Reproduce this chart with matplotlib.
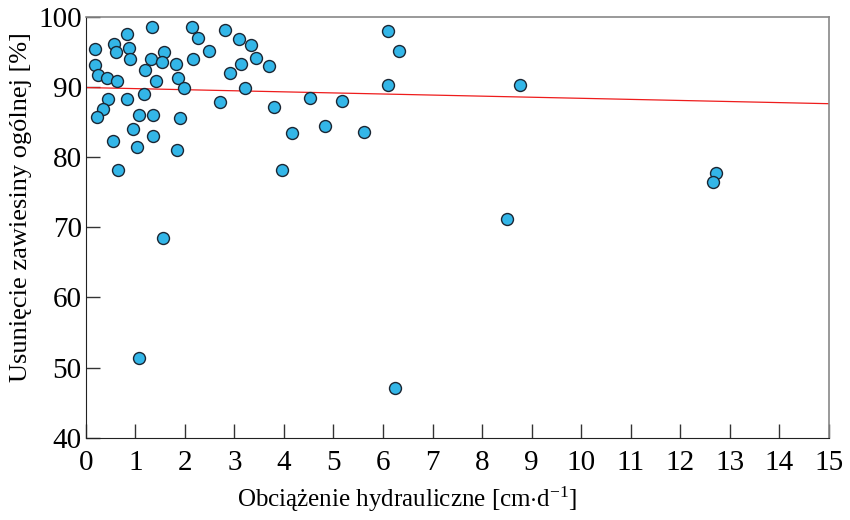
import matplotlib
matplotlib.use("Agg")
import matplotlib.pyplot as plt

# obciazenie hydrauliczne [cm/d] i usuniecie zawiesiny [%]
load = [0.19, 0.18, 0.24, 0.43, 0.63, 0.57, 0.60, 0.83, 0.87, 0.90,
        1.33, 1.19, 1.31, 1.42, 1.58, 1.54, 1.83, 1.86, 1.99, 2.15,
        2.26, 2.16, 2.49, 2.80, 3.09, 3.34, 3.44, 3.13, 2.91, 3.69,
        3.22, 3.79, 0.44, 0.34, 0.23, 0.84, 1.18, 1.07, 1.35, 1.90,
        2.70, 0.95, 1.35, 0.54, 1.04, 1.85, 0.64, 3.96, 6.11, 6.33,
        6.11, 4.52, 5.18, 4.17, 4.82, 5.61, 1.56, 1.08, 6.25, 8.76,
        8.51, 12.72, 12.66]
removal = [95.4, 93.1, 91.7, 91.2, 90.9, 96.1, 94.9, 97.5, 95.5, 93.9,
           98.5, 92.4, 93.9, 90.9, 95.0, 93.6, 93.3, 91.3, 89.9, 98.5,
           97.0, 94.0, 95.1, 98.1, 96.8, 96.0, 94.1, 93.2, 92.0, 93.0,
           89.9, 87.1, 88.2, 86.9, 85.7, 88.2, 89.0, 86.0, 86.0, 85.5,
           87.9, 84.0, 83.0, 82.3, 81.4, 81.0, 78.2, 78.2, 98.0, 95.1,
           90.2, 88.4, 88.0, 83.4, 84.4, 83.6, 68.4, 51.4, 47.1, 90.2,
           71.2, 77.7, 76.4]

# linia trendu
trend_x = [0, 15]
trend_y = [89.9, 87.6]

x_ticks = list(range(0, 16))
y_ticks = [40, 50, 60, 70, 80, 90, 100]

plt.rcParams['font.family'] = ['Liberation Serif', 'DejaVu Serif']
plt.rcParams['mathtext.fontset'] = 'custom'
plt.rcParams['mathtext.rm'] = 'Liberation Serif'
plt.rcParams['mathtext.it'] = 'Liberation Serif'

fig = plt.figure(figsize=(8.5, 5.2), dpi=100)
ax = fig.add_axes([0.101, 0.158, 0.874, 0.81])

ax.plot(trend_x, trend_y, color='#ee1c1c', lw=0.9, zorder=2)
ax.scatter(load, removal, s=74, color='#33b6e8', edgecolor='#1b2633',
           linewidth=1.0, zorder=3)

ax.set_xlim(0, 15)
ax.set_ylim(40, 100)
ax.set_xticks(x_ticks)
ax.set_yticks(y_ticks)
ax.tick_params(direction='in', length=10, width=1, color='#333333',
               labelsize=21, pad=9)
ax.tick_params(axis='y', pad=3)

for s in ['left', 'bottom']:
    ax.spines[s].set_color('#222222')
for s in ['top', 'right']:
    ax.spines[s].set_color('#888888')
    ax.spines[s].set_linewidth(1.2)

ax.set_xlabel(r'Obciążenie hydrauliczne [cm$\cdot$d$^{\mathrm{-1}}$]', fontsize=18)
ax.set_ylabel('Usunięcie zawiesiny ogólnej [%]', fontsize=19)
ax.xaxis.set_label_coords(0.433, -0.112)
ax.yaxis.set_label_coords(-0.073, 0.549)

fig.savefig('out.png', dpi=100)
plt.close(fig)
